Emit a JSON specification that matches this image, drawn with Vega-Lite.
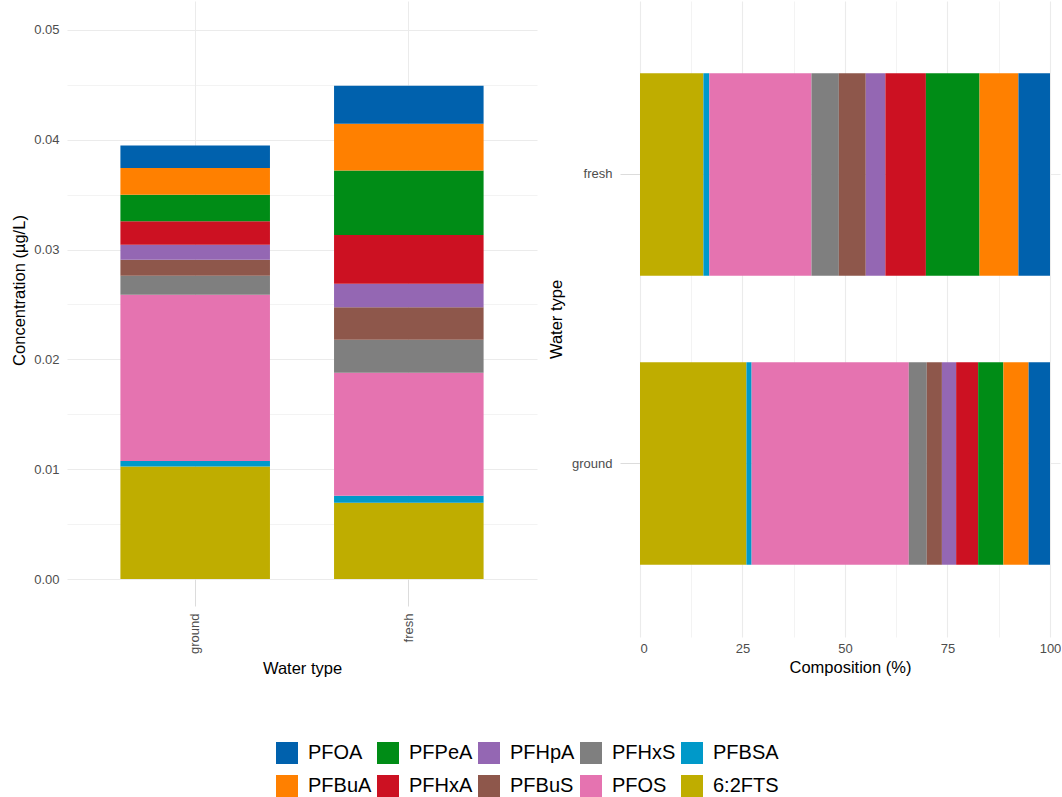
{
  "$schema": "https://vega.github.io/schema/vega-lite/v6.json",
  "padding": {"left": 11, "top": 1, "right": 0, "bottom": 0},
  "background": "white",
  "data": {"values": [
    {"water": "ground", "compound": "6:2FTS", "conc": 0.01025},
    {"water": "ground", "compound": "PFBSA", "conc": 0.0005},
    {"water": "ground", "compound": "PFOS", "conc": 0.01514},
    {"water": "ground", "compound": "PFHxS", "conc": 0.00173},
    {"water": "ground", "compound": "PFBuS", "conc": 0.00146},
    {"water": "ground", "compound": "PFHpA", "conc": 0.00137},
    {"water": "ground", "compound": "PFHxA", "conc": 0.00212},
    {"water": "ground", "compound": "PFPeA", "conc": 0.00243},
    {"water": "ground", "compound": "PFBuA", "conc": 0.00243},
    {"water": "ground", "compound": "PFOA", "conc": 0.00206},
    {"water": "fresh", "compound": "6:2FTS", "conc": 0.00695},
    {"water": "fresh", "compound": "PFBSA", "conc": 0.00064},
    {"water": "fresh", "compound": "PFOS", "conc": 0.0112},
    {"water": "fresh", "compound": "PFHxS", "conc": 0.0030},
    {"water": "fresh", "compound": "PFBuS", "conc": 0.00295},
    {"water": "fresh", "compound": "PFHpA", "conc": 0.00215},
    {"water": "fresh", "compound": "PFHxA", "conc": 0.00444},
    {"water": "fresh", "compound": "PFPeA", "conc": 0.00588},
    {"water": "fresh", "compound": "PFBuA", "conc": 0.00426},
    {"water": "fresh", "compound": "PFOA", "conc": 0.00346}
  ]},
  "transform": [
    {"calculate": "indexof(['6:2FTS','PFBSA','PFOS','PFHxS','PFBuS','PFHpA','PFHxA','PFPeA','PFBuA','PFOA'], datum.compound)", "as": "stack_rank"}
  ],
  "spacing": 11,
  "hconcat": [
    {
      "width": 470,
      "height": 578,
      "mark": {"type": "bar"},
      "encoding": {
        "x": {
          "field": "water", "type": "nominal", "sort": ["ground", "fresh"],
          "scale": {"paddingInner": 0.3, "paddingOuter": 0.25},
          "axis": {"title": "Water type", "labelAngle": -90, "grid": true, "bandPosition": 0.5,
                   "ticks": true, "tickSize": 27, "tickColor": "#dcdcdc", "tickWidth": 1,
                   "labelPadding": 7, "titlePadding": 7}
        },
        "y": {
          "field": "conc", "type": "quantitative", "stack": "zero",
          "scale": {"domain": [0, 0.05264], "nice": false},
          "axis": {"title": "Concentration (µg/L)",
                   "values": [0, 0.005, 0.01, 0.015, 0.02, 0.025, 0.03, 0.035, 0.04, 0.045, 0.05],
                   "labelExpr": "round(datum.value*1000) % 10 == 0 ? format(datum.value, '.2f') : ''",
                   "gridWidth": {"condition": {"test": "round(datum.value*1000) % 10 == 0", "value": 1.1}, "value": 0.6},
                   "ticks": false, "labelPadding": 8, "titlePadding": 6}
        },
        "color": {
          "field": "compound", "type": "nominal",
          "scale": {
            "domain": ["PFOA", "PFBuA", "PFPeA", "PFHxA", "PFHpA", "PFBuS", "PFHxS", "PFOS", "PFBSA", "6:2FTS"],
            "range": ["#0061ad", "#ff8000", "#008c16", "#cc1122", "#9467b3", "#8e574b", "#7f7f7f", "#e573b0", "#0099c9", "#bfad00"]
          },
          "legend": {
            "orient": "none", "legendX": 209, "legendY": 741, "columns": 5, "title": null,
            "symbolType": "square", "symbolSize": 484, "symbolStrokeWidth": 0, "symbolOpacity": 1,
            "labelFontSize": 20, "labelColor": "black", "labelOffset": 10,
            "columnPadding": 5, "rowPadding": 11
          }
        },
        "order": {"field": "stack_rank", "type": "quantitative"}
      }
    },
    {
      "width": 420,
      "height": 636,
      "mark": {"type": "bar"},
      "encoding": {
        "y": {
          "field": "water", "type": "nominal", "sort": ["fresh", "ground"],
          "scale": {"paddingInner": 0.3, "paddingOuter": 0.25},
          "axis": {"title": "Water type", "grid": true, "bandPosition": 0.5,
                   "ticks": true, "tickSize": 20, "tickColor": "#dcdcdc", "tickWidth": 1,
                   "labelPadding": 8, "titlePadding": 7}
        },
        "x": {
          "field": "conc", "type": "quantitative", "stack": "normalize",
          "scale": {"domain": [0, 1.0244], "nice": false},
          "axis": {"title": "Composition (%)",
                   "values": [0, 0.125, 0.25, 0.375, 0.5, 0.625, 0.75, 0.875, 1],
                   "labelExpr": "round(datum.value*1000) % 250 == 0 ? format(round(datum.value*100), 'd') : ''",
                   "gridWidth": {"condition": {"test": "round(datum.value*1000) % 250 == 0", "value": 1.1}, "value": 0.6},
                   "ticks": false, "labelPadding": 5, "titlePadding": 4}
        },
        "color": {"field": "compound", "type": "nominal"},
        "order": {"field": "stack_rank", "type": "quantitative"}
      }
    }
  ],
  "resolve": {"scale": {"color": "shared"}},
  "config": {
    "font": "Liberation Sans",
    "view": {"stroke": null},
    "axis": {
      "domain": false,
      "gridColor": "#ebebeb",
      "labelColor": "#4d4d4d",
      "labelFontSize": 13,
      "labelFont": "Liberation Sans",
      "titleFont": "Liberation Sans",
      "titleFontSize": 16.5,
      "titleFontWeight": "normal",
      "titleColor": "#000000"
    },
    "legend": {"labelFont": "Liberation Sans"}
  }
}
